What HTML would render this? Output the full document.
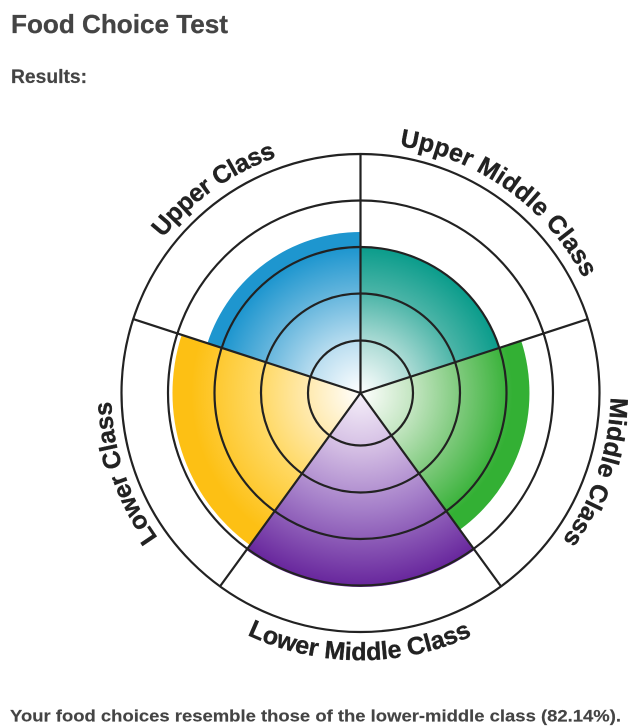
<!DOCTYPE html>
<html><head><meta charset="utf-8"><style>
html,body{margin:0;padding:0;background:#fff;width:637px;height:727px;overflow:hidden}
svg{display:block}
text{font-family:"Liberation Sans",sans-serif;font-weight:bold}
</style></head><body>
<svg width="637" height="727" viewBox="0 0 637 727" xmlns="http://www.w3.org/2000/svg">
<defs>
<radialGradient id="gb" gradientUnits="userSpaceOnUse" cx="360.5" cy="393" r="161"><stop offset="0" stop-color="#fff"/><stop offset=".3" stop-color="#bfe0f1"/><stop offset=".62" stop-color="#66b6dd"/><stop offset=".9" stop-color="#1e96cf"/></radialGradient>
<radialGradient id="gt" gradientUnits="userSpaceOnUse" cx="360.5" cy="393" r="146"><stop offset="0" stop-color="#fff"/><stop offset=".35" stop-color="#aedcd6"/><stop offset=".68" stop-color="#4db5a8"/><stop offset="1" stop-color="#0a9c8b"/></radialGradient>
<radialGradient id="gg" gradientUnits="userSpaceOnUse" cx="360.5" cy="393" r="169"><stop offset="0" stop-color="#fff"/><stop offset=".3" stop-color="#c5e6c3"/><stop offset=".6" stop-color="#7cc97a"/><stop offset=".9" stop-color="#33b034"/></radialGradient>
<radialGradient id="gy" gradientUnits="userSpaceOnUse" cx="360.5" cy="393" r="188"><stop offset="0" stop-color="#fff"/><stop offset=".28" stop-color="#ffeab0"/><stop offset=".55" stop-color="#ffd861"/><stop offset=".9" stop-color="#fdc014"/></radialGradient>
<radialGradient id="gp" gradientUnits="userSpaceOnUse" cx="360.5" cy="393" r="194"><stop offset="0" stop-color="#f6f0fa"/><stop offset=".3" stop-color="#d3bde3"/><stop offset=".6" stop-color="#a57fc9"/><stop offset="1" stop-color="#67259c"/></radialGradient>
<path id="pUC" d="M163 238A250 250 0 0 1 290 153"/>
<path id="pUM" d="M399.5 146A250 250 0 0 1 590 292"/>
<path id="pM" d="M610.5 397.4A250 250 0 0 1 555 550"/>
<path id="pL" d="M157.8 537.7A249 249 0 0 1 112 372"/>
<path id="pLM" d="M247.2 635A267 267 0 0 0 480 632"/>
</defs>

<text x="11" y="33" font-size="26" fill="#444" stroke="#444" stroke-width=".3" textLength="217" lengthAdjust="spacingAndGlyphs">Food Choice Test</text>
<text x="11" y="83" font-size="19" fill="#444" stroke="#444" stroke-width=".2" textLength="76" lengthAdjust="spacingAndGlyphs">Results:</text>

<!-- wedges -->
<path d="M360.5 393L207.4 343.2A161 161 0 0 1 360.5 232Z" fill="url(#gb)"/>
<path d="M360.5 393V247A146 146 0 0 1 499.4 347.9Z" fill="url(#gt)"/>
<path d="M360.5 393L521.2 340.8A169 169 0 0 1 459.8 529.7Z" fill="url(#gg)"/>
<path d="M360.5 393L249.9 545.1A188 188 0 0 1 181.7 334.9Z" fill="url(#gy)"/>
<path d="M360.5 393L474.5 550A194 194 0 0 1 246.5 550Z" fill="url(#gp)"/>

<!-- rings and spokes -->
<g fill="none" stroke="#222" stroke-width="2.2">
<circle cx="360.5" cy="393" r="239"/>
<circle cx="360.5" cy="393" r="192.5"/>
<circle cx="360.5" cy="393" r="146"/>
<circle cx="360.5" cy="393" r="99.5"/>
<circle cx="360.5" cy="393" r="52.5"/>
<path d="M360.5 393V154M360.5 393L587.8 319.1M360.5 393L501 586.4M360.5 393L220 586.4M360.5 393L133.2 319.1"/>
</g>

<!-- labels -->
<g font-size="25" fill="#222" stroke="#222" stroke-width=".35">
<text><textPath href="#pUC" startOffset="0" textLength="141" lengthAdjust="spacing">Upper Class</textPath></text>
<text><textPath href="#pUM" startOffset="0" textLength="235" lengthAdjust="spacing">Upper Middle Class</textPath></text>
<text><textPath href="#pM" startOffset="0" textLength="153" lengthAdjust="spacing">Middle Class</textPath></text>
<text><textPath href="#pL" startOffset="0" textLength="146" lengthAdjust="spacing">Lower Class</textPath></text>
<text><textPath href="#pLM" startOffset="0" textLength="232" lengthAdjust="spacing">Lower Middle Class</textPath></text>
</g>

<text x="10" y="721.5" font-size="17" fill="#444" stroke="#444" stroke-width=".15" textLength="611" lengthAdjust="spacingAndGlyphs">Your food choices resemble those of the lower-middle class (82.14%).</text>
</svg>
</body></html>
